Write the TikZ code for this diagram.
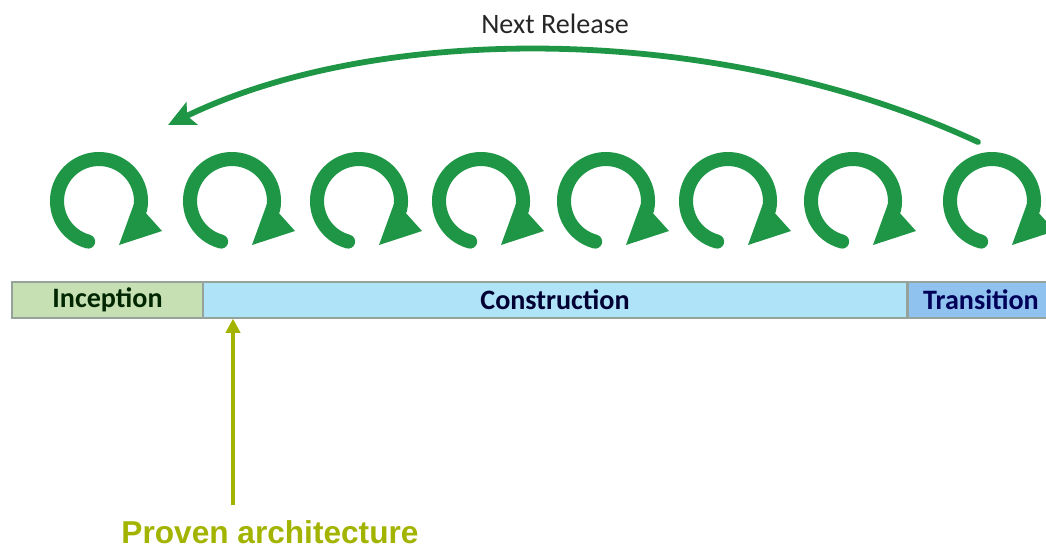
\documentclass[tikz,border=0pt]{standalone}
\usepackage{fontspec}
\usetikzlibrary{arrows.meta}
\newfontfamily\calibrifont{Carlito}
\newfontfamily\arialfont{Liberation Sans}
\definecolor{cyclegreen}{HTML}{1E9646}
\definecolor{milestone}{HTML}{A2B300}
\definecolor{incfill}{HTML}{C6E0B4}
\definecolor{confill}{HTML}{AEE3F8}
\definecolor{trafill}{HTML}{8FC2EE}
\definecolor{barline}{HTML}{95A39C}
\tikzset{
  phase/.style={draw=barline, line width=0.8pt, minimum height=0.72cm, inner sep=0pt,
    font=\calibrifont\bfseries\fontsize{16}{19}\selectfont},
  cycle arc/.style={draw=cyclegreen, line width=8pt, line cap=round},
  release arrow/.style={draw=cyclegreen, line width=3.3pt, line cap=round,
    -{Stealth[length=15pt, width=14pt, inset=3pt]}},
  proven arrow/.style={draw=milestone, line width=2.8pt,
    -{Triangle[length=8pt, width=8pt]}},
}
\begin{document}
\begin{tikzpicture}[x=0.02cm, y=-0.02cm]
  \useasboundingbox (0,0) rectangle (1046,552);
  % phases
  \node[phase, fill=incfill, minimum width=3.82cm, text=black!85!green] (inception) at (107.5,300) {Inception};
  \node[phase, fill=confill, minimum width=14.08cm, text=black!80!blue] (construction) at (555,300) {Construction};
  \node[phase, fill=trafill, minimum width=2.9cm, text=blue!35!black] (transition) at (981,300) {Transition};
  % iterations
  \foreach \cx in {99,232,359,481,606,728,853,992}{
    \begin{scope}[shift={(\cx,201)}]
      \draw[cycle arc] (105:42) arc[start angle=105, end angle=372, radius=42];
      \fill[cyclegreen] (20,44) -- (36,0) -- (63,30) -- cycle;
    \end{scope}
  }
  % next release
  \coordinate (relstart) at (978,142);
  \coordinate (relend) at (168,125);
  \draw[release arrow] (relstart) .. controls (720,22) and (380,22) .. (relend);
  \node[font=\calibrifont\fontsize{16}{19}\selectfont, anchor=base, text=black!85] (nextrel) at (555,33) {Next Release};
  % milestone
  \coordinate (archbase) at (233,505);
  \draw[proven arrow] (archbase) -- (construction.south -| archbase);
  \node[font=\arialfont\bfseries\fontsize{18}{21}\selectfont, text=milestone, anchor=base] (proven) at (270,543) {Proven architecture};
\end{tikzpicture}
\end{document}
